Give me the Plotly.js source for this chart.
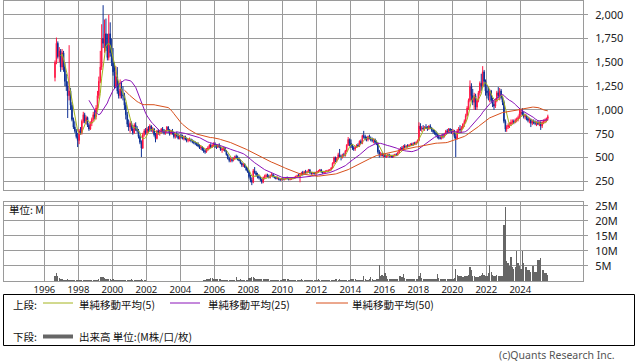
<!DOCTYPE html>
<html><head><meta charset="utf-8">
<script src="https://cdn.plot.ly/plotly-3.0.1.min.js"></script>
<style>html,body{margin:0;padding:0;background:#fff}#chart{width:638px;height:362px}</style>
</head><body><div id="chart"></div>
<script>
// Monthly data, Aug 1996 .. Aug 2025
const startYear = 1996, startMonth = 8;
const openP = [
1340,1500,1700,1560,1620,
1450,1600,1450,1300,1250,1150,1200,1050,900,820,780,720,
680,780,760,880,950,880,920,840,800,860,900,950,
930,1020,1150,1300,1450,1750,1700,1800,1650,1550,1800,1600,
1500,1400,1250,1350,1200,1150,1220,1150,1150,1050,950,850,
820,860,800,760,840,800,780,720,660,600,740,780,
760,800,780,830,790,800,740,700,780,760,770,800,
780,760,780,820,790,750,780,760,720,750,730,700,
730,720,700,720,690,680,690,690,680,670,660,650,
640,620,600,610,580,570,560,590,600,630,610,630,
640,620,610,630,610,580,590,600,570,530,490,470,
480,470,490,510,500,480,470,440,420,430,400,370,
350,300,260,240,360,340,320,300,290,270,240,290,
300,310,300,290,310,320,300,290,280,285,270,265,
275,270,275,285,280,270,275,280,285,290,300,310,
300,320,340,330,350,340,350,370,340,330,340,330,
340,350,360,370,350,340,350,355,360,365,370,390,
440,500,470,490,530,510,500,530,520,570,630,690,
650,620,600,590,610,630,620,670,650,730,720,700,
690,720,700,690,680,690,660,650,560,530,540,520,
530,510,520,530,515,520,505,525,530,525,550,580,
600,590,620,610,620,615,630,640,630,650,640,660,
680,830,800,810,800,820,810,800,830,810,790,770,
760,740,720,710,700,730,720,750,780,770,800,780,
770,780,720,700,780,800,790,810,850,880,940,1020,
1100,1250,1150,1080,1150,1030,1100,1180,1280,1250,1400,1300,
1200,1180,1150,1200,1100,1060,1040,1100,1180,1150,1200,1130,
1080,880,800,820,840,850,870,880,870,890,900,920,
960,980,950,930,940,910,890,900,860,880,870,860,
870,850,870,830,870,880,890,910];
const highP = [
1520,1760,1720,1660,1640,
1640,1620,1500,1380,1300,1680,1230,1080,920,880,800,760,
800,820,900,980,970,940,930,860,880,920,980,1000,
1050,1200,1350,1620,1900,2100,1950,1960,1800,2000,1920,1750,
1650,1500,1460,1450,1300,1320,1300,1250,1180,1080,980,900,
880,880,840,860,870,830,800,740,680,760,800,810,
820,830,850,840,820,810,760,790,800,790,810,820,
800,790,830,830,800,790,800,770,760,770,750,740,
750,740,730,730,710,700,710,700,690,680,670,660,
660,640,630,620,600,590,600,620,640,650,640,660,
660,640,640,650,620,600,610,610,580,540,510,500,
500,500,520,530,520,500,480,450,440,440,410,390,
360,320,290,380,400,360,340,320,300,280,300,320,
330,330,320,320,340,330,310,300,300,290,280,285,
290,280,295,300,290,285,290,295,300,310,320,330,
330,350,360,360,370,360,380,380,350,350,350,350,
360,370,380,380,360,360,365,370,375,380,400,450,
510,510,500,550,590,530,540,550,580,640,715,700,
690,640,620,620,640,650,680,690,740,780,740,720,
730,740,720,710,700,700,680,660,580,560,550,540,
540,530,540,540,530,530,530,540,545,560,590,610,
620,630,640,630,640,640,650,655,660,665,670,690,
870,860,830,840,830,850,830,840,850,820,800,790,
780,760,740,730,740,750,760,790,800,810,810,800,
800,790,760,800,820,840,830,860,900,960,1040,1120,
1310,1280,1220,1180,1170,1120,1200,1300,1380,1460,1420,1320,
1260,1240,1220,1210,1130,1100,1120,1200,1240,1230,1220,1150,
1100,900,840,860,870,900,900,900,910,920,940,1020,
1000,1020,980,960,950,930,920,910,900,900,890,880,
890,880,880,880,900,910,920,950];
const lowP = [
1300,1480,1540,1500,1400,
1420,1400,1250,1200,915,1100,1000,880,800,760,700,610,
640,740,740,860,860,850,820,780,790,830,880,900,
900,1000,1120,1280,1420,1650,1600,1620,1520,1520,1560,1460,
1360,1220,1230,1170,1120,1120,1120,1100,1000,900,820,780,
760,780,740,750,780,760,700,640,505,590,720,740,
740,760,770,770,760,720,660,690,740,730,750,760,
740,740,760,770,730,740,740,700,700,710,690,690,
700,690,680,680,660,660,670,660,650,640,630,620,
610,590,580,570,550,540,550,570,590,600,600,610,
600,590,600,600,570,550,570,560,520,480,450,450,
450,460,480,490,470,460,430,400,400,390,360,340,
280,240,210,230,330,300,280,270,250,225,230,270,
280,290,280,280,300,290,280,270,270,260,255,260,
260,260,270,270,260,260,265,270,275,280,285,290,
240,310,310,320,330,330,340,330,320,320,320,320,
330,340,350,340,330,330,340,345,350,355,365,385,
430,450,450,480,500,470,490,510,510,560,620,620,
600,580,570,570,600,610,610,640,640,700,680,670,
670,690,670,660,650,640,630,540,500,510,510,500,
500,495,505,500,500,495,500,510,515,520,540,570,
580,585,600,595,605,610,620,620,625,630,635,650,
670,780,770,790,780,800,780,790,800,770,750,740,
720,700,690,690,690,700,710,740,750,760,760,750,
740,700,505,690,760,770,760,800,820,860,930,1000,
1080,1100,1050,1000,1000,1000,1080,1150,1200,1230,1250,1150,
1120,1100,1080,1080,1030,1000,1020,1080,1120,1100,1110,1050,
860,770,770,800,810,830,850,850,860,870,880,910,
930,940,910,900,890,870,860,820,840,850,840,830,
840,830,790,810,850,860,870,890];
const closeP = [
1500,1700,1560,1620,1450,
1600,1450,1300,1250,1150,1200,1050,900,820,780,720,680,
780,760,880,950,880,920,840,800,860,900,950,930,
1020,1150,1300,1450,1750,1700,1800,1650,1550,1800,1600,1500,
1400,1250,1350,1200,1150,1220,1150,1150,1050,950,850,820,
860,800,760,840,800,780,720,660,600,740,780,760,
800,780,830,790,800,740,700,780,760,770,800,780,
760,780,820,790,750,780,760,720,750,730,700,730,
720,700,720,690,680,690,690,680,670,660,650,640,
620,600,610,580,570,560,590,600,630,610,630,640,
620,610,630,610,580,590,600,570,530,490,470,480,
470,490,510,500,480,470,440,420,430,400,370,350,
300,260,240,360,340,320,300,290,270,240,290,300,
310,300,290,310,320,300,290,280,285,270,265,275,
270,275,285,280,270,275,280,285,290,300,310,300,
320,340,330,350,340,350,370,340,330,340,330,340,
350,360,370,350,340,350,355,360,365,370,390,440,
500,470,490,530,510,500,530,520,570,630,690,650,
620,600,590,610,630,620,670,650,730,720,700,690,
720,700,690,680,690,660,650,560,530,540,520,530,
510,520,530,515,520,505,525,530,525,550,580,600,
590,620,610,620,615,630,640,630,650,640,660,680,
830,800,810,800,820,810,800,830,810,790,770,760,
740,720,710,700,730,720,750,780,770,800,780,770,
780,720,700,780,800,790,810,850,880,940,1020,1100,
1250,1150,1080,1150,1030,1100,1180,1280,1250,1400,1300,1200,
1180,1150,1200,1100,1060,1040,1100,1180,1150,1200,1130,1080,
880,800,820,840,850,870,880,870,890,900,920,960,
980,950,930,940,910,890,900,860,880,870,860,870,
850,870,830,870,880,890,910,930];
// volume, millions of shares
const volumeM = [
1.5,2.5,1.8,0.9,0.6,
0.5,0.4,0.3,0.3,0.5,0.4,0.3,0.3,0.2,0.2,0.2,0.3,
0.2,0.2,0.2,0.2,0.2,0.2,0.2,0.2,0.2,0.2,0.2,0.3,
0.3,0.3,0.5,1.2,1.3,1.2,1.0,0.8,0.5,0.6,0.5,0.4,
0.5,0.4,0.3,0.3,0.2,0.3,0.2,0.2,0.2,0.2,0.2,0.2,
0.2,0.5,0.2,0.2,0.2,0.2,0.2,0.2,0.5,0.3,0.2,0.2,
0.1,0.1,0.1,0.1,0.1,0.1,0.1,0.1,0.1,0.1,0.1,0.1,
0.1,0.1,0.1,0.1,0.1,0.1,0.1,0.1,0.1,0.1,0.1,0.1,
0.1,0.1,0.1,0.1,0.1,0.1,0.1,0.1,0.1,0.1,0.1,0.1,
0.1,0.1,0.1,0.1,0.2,0.2,0.6,0.7,0.7,0.9,1.0,0.8,
0.8,0.7,0.6,0.6,0.5,0.2,0.2,0.2,0.2,0.2,0.2,0.2,
0.2,0.2,0.2,1.2,0.2,0.2,0.6,0.2,0.2,0.2,0.2,0.2,
0.9,1.0,1.2,1.3,1.0,0.8,0.8,0.7,0.8,0.8,0.8,0.8,
0.8,0.7,0.7,0.2,0.2,0.2,0.2,0.2,0.2,0.2,0.2,0.2,
0.6,0.6,0.6,0.6,0.6,0.2,0.2,0.2,0.2,0.2,0.2,0.2,
0.2,0.6,0.3,0.2,0.2,0.2,0.2,0.2,0.2,0.2,0.2,0.2,
0.2,0.5,0.3,0.2,0.2,0.2,0.2,0.2,0.2,0.2,0.2,0.2,
0.3,0.5,0.5,0.4,0.5,0.3,0.2,0.2,0.2,0.2,0.2,0.3,
0.5,0.6,0.5,0.6,0.3,0.3,0.3,0.3,0.4,1.8,0.6,0.4,
0.4,0.6,1.2,0.5,0.4,0.4,0.5,0.6,5.3,1.5,2.0,1.8,
2.5,1.5,0.8,0.6,0.6,0.5,0.5,0.5,0.5,0.8,1.5,1.5,
1.2,2.3,1.0,0.8,0.7,0.6,0.6,0.5,0.5,0.5,0.6,0.8,
1.5,2.5,1.0,0.8,0.7,0.6,0.6,0.6,0.5,0.6,0.6,0.6,
0.8,2.3,1.0,0.6,0.6,0.5,0.5,0.5,0.5,0.6,0.6,0.5,
0.6,1.0,4.0,2.0,1.5,1.6,1.5,1.4,1.5,1.6,1.8,2.0,
4.5,3.5,1.8,1.5,1.4,1.3,1.3,1.5,2.0,2.8,2.0,1.5,
1.6,2.5,5.2,3.0,2.0,1.8,1.6,2.0,1.8,1.5,1.5,1.6,
18.5,24.7,6.5,6.0,5.0,8.0,4.5,4.0,4.5,10.0,6.0,5.0,
4.0,10.0,6.0,4.5,4.5,3.5,3.5,3.0,5.0,5.0,3.0,3.0,
7.0,7.0,7.5,3.5,3.5,2.5,2.5,2.0];
const yearTicks = ['1996','1998','2000','2002','2004','2006','2008','2010','2012','2014','2016','2018','2020','2022','2024'];
const priceTicks = [250,500,750,1000,1250,1500,1750,2000];
const volTicks = [5,10,15,20,25];
const volTickText = ['5M','10M','15M','20M','25M'];
const maWindows = [5,25,50];
const maNames = ['単純移動平均(5)','単純移動平均(25)','単純移動平均(50)'];

// month dates
const dates = [];
for (let i = 0; i < closeP.length; i++) {
  const m0 = startMonth - 1 + i;
  const y = startYear + Math.floor(m0 / 12), m = (m0 % 12) + 1;
  dates.push(y + '-' + String(m).padStart(2, '0') + '-15');
}
function sma(arr, n) {
  return arr.map((v, i) => {
    if (i < n - 1) return null;
    let s = 0; for (let k = i - n + 1; k <= i; k++) s += arr[k];
    return s / n;
  });
}
const maColors = ['#a4b41e', '#8a12b8', '#d8501c'];
const CJK = '"Noto Sans CJK JP", "Noto Sans", sans-serif';
const LAT = '"Noto Sans", "DejaVu Sans", sans-serif';
const GRID = '#9a9a9a';

const traces = [{
  type: 'candlestick', x: dates, open: openP, high: highP, low: lowP, close: closeP,
  xaxis: 'x', yaxis: 'y', whiskerwidth: 0, hoverinfo: 'skip',
  increasing: {line: {color: '#ff1744', width: 1}, fillcolor: '#ff1744'},
  decreasing: {line: {color: '#0d2f94', width: 1}, fillcolor: '#0d2f94'}
}];
maWindows.forEach((n, j) => traces.push({
  type: 'scatter', mode: 'lines', x: dates, y: sma(closeP, n), name: maNames[j],
  xaxis: 'x', yaxis: 'y', line: {color: maColors[j], width: 1}, hoverinfo: 'skip', connectgaps: false
}));
traces.push({
  type: 'bar', x: dates, y: volumeM, xaxis: 'x2', yaxis: 'y2',
  marker: {color: '#666666', line: {width: 0}}, hoverinfo: 'skip'
});

const PX = p => (p - 4) / 579;
const PY = p => (281 - p) / 280;
const tickDates = yearTicks.map(y => y + '-01-01');
const xcommon = {
  type: 'date', range: ['1993-08-15', '2027-09-10'],
  tickvals: tickDates, ticktext: yearTicks, showgrid: true, gridcolor: GRID, gridwidth: 1,
  showline: true, mirror: true, linecolor: GRID, linewidth: 1, zeroline: false, ticks: '',
  tickfont: {family: LAT, size: 9.5, color: '#222'}
};
const shapes = [
  {type: 'rect', xref: 'paper', yref: 'paper', x0: PX(3.5), x1: PX(634.5), y0: PY(294.5), y1: PY(345.5), line: {color: '#000', width: 1}},
  {type: 'line', xref: 'paper', yref: 'paper', x0: PX(43), x1: PX(73), y0: PY(303), y1: PY(303), line: {color: maColors[0], width: 1}},
  {type: 'line', xref: 'paper', yref: 'paper', x0: PX(170), x1: PX(200), y0: PY(303), y1: PY(303), line: {color: maColors[1], width: 1}},
  {type: 'line', xref: 'paper', yref: 'paper', x0: PX(316), x1: PX(348), y0: PY(303), y1: PY(303), line: {color: maColors[2], width: 1}},
  {type: 'line', xref: 'paper', yref: 'paper', x0: PX(43), x1: PX(73), y0: PY(336.5), y1: PY(336.5), line: {color: '#666', width: 4}}
];
const ann = (t, px, py, opts) => Object.assign({
  text: t, xref: 'paper', yref: 'paper', x: PX(px), y: PY(py), xanchor: 'left', yanchor: 'middle',
  showarrow: false, font: {family: CJK, size: 10.5, color: '#111'}
}, opts || {});
const annotations = [
  ann('単位: M', 7, 209),
  ann('上段:', 11, 304),
  ann(maNames[0], 77, 304),
  ann(maNames[1], 206, 304),
  ann(maNames[2], 350, 304),
  ann('下段:', 11, 336.5),
  ann('出来高 単位:(M株/口/枚)', 77, 336.5),
  ann('(c)Quants Research Inc.', 617, 354.5, {xanchor: 'right', font: {family: LAT, size: 10.5, color: '#555'}})
];

const layout = {
  width: 638, height: 362, margin: {l: 4, r: 55, t: 1, b: 81},
  paper_bgcolor: '#fff', plot_bgcolor: '#fff', showlegend: false, bargap: 0,
  xaxis: Object.assign({}, xcommon, {anchor: 'y', showticklabels: false, rangeslider: {visible: false}}),
  xaxis2: Object.assign({}, xcommon, {anchor: 'y2', matches: 'x', showticklabels: true}),
  yaxis: {domain: [0.325, 1], side: 'right', range: [159, 2144], tickvals: priceTicks, tickformat: ',d',
    ticks: 'outside', ticklen: 4, tickcolor: GRID, showgrid: true, gridcolor: GRID, showline: true, mirror: true,
    linecolor: GRID, zeroline: false, ticklabelstandoff: 5, tickfont: {family: LAT, size: 11, color: '#222'}},
  yaxis2: {domain: [0, 0.283], side: 'right', range: [0, 26.3], tickvals: volTicks, ticktext: volTickText,
    ticks: 'outside', ticklen: 4, tickcolor: GRID, showgrid: true, gridcolor: GRID, showline: true, mirror: true,
    linecolor: GRID, zeroline: false, ticklabelstandoff: 5, tickfont: {family: LAT, size: 11, color: '#222'}},
  shapes: shapes, annotations: annotations
};
Plotly.newPlot('chart', traces, layout, {staticPlot: true, displayModeBar: false});
</script></body></html>
